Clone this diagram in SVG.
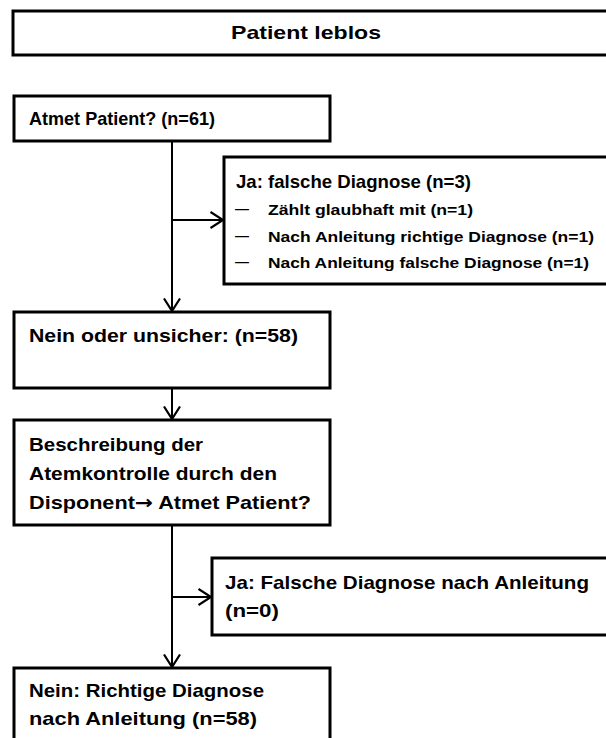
<svg xmlns="http://www.w3.org/2000/svg" width="606" height="738" viewBox="0 0 606 738">
  <style>
    .box { fill: #fff; stroke: #000; stroke-width: 3; }
    .t { font-family: "Liberation Sans", Arial, sans-serif; font-weight: bold; font-size: 19px; fill: #000; }
    .s { font-family: "Liberation Sans", Arial, sans-serif; font-weight: bold; font-size: 15.5px; fill: #000; }
    .d { font-family: "Liberation Sans", Arial, sans-serif; font-weight: normal; font-size: 16px; fill: #000; }
    .arr { font-family: "DejaVu Sans", sans-serif; font-weight: bold; }
    .line { fill: none; stroke: #000; stroke-width: 2; }
  </style>
  <defs>
    <marker id="arrow" viewBox="0 0 15 18" refX="13.5" refY="9" markerWidth="15" markerHeight="18" markerUnits="userSpaceOnUse" orient="auto">
      <polyline points="1,1 13.5,9 1,17" fill="none" stroke="#000" stroke-width="2.2"/>
    </marker>
  </defs>
  <rect width="606" height="738" fill="#fff"/>

  <g id="connectors">
    <line class="line" x1="172" y1="141" x2="172" y2="311" marker-end="url(#arrow)"/>
    <line class="line" x1="172" y1="220" x2="223" y2="220" marker-end="url(#arrow)"/>
    <line class="line" x1="172" y1="388" x2="172" y2="419" marker-end="url(#arrow)"/>
    <line class="line" x1="172" y1="525" x2="172" y2="667" marker-end="url(#arrow)"/>
    <line class="line" x1="172" y1="597" x2="211" y2="597" marker-end="url(#arrow)"/>
  </g>

  <g id="patient-leblos">
    <rect class="box" x="13" y="11" width="610" height="44"/>
    <text class="t" x="231" y="39" textLength="150" lengthAdjust="spacingAndGlyphs">Patient leblos</text>
  </g>

  <g id="atmet-patient">
    <rect class="box" x="14" y="96" width="316" height="45"/>
    <text class="t" x="29" y="125" textLength="186" lengthAdjust="spacingAndGlyphs">Atmet Patient? (n=61)</text>
  </g>

  <g id="ja-falsche-diagnose">
    <rect class="box" x="224" y="157" width="400" height="127"/>
    <text class="t" x="236" y="188" textLength="235" lengthAdjust="spacingAndGlyphs">Ja: falsche Diagnose (n=3)</text>
    <text class="d" x="235" y="214" textLength="14" lengthAdjust="spacingAndGlyphs">–</text>
    <text class="s" x="268" y="215" textLength="205" lengthAdjust="spacingAndGlyphs">Zählt glaubhaft mit (n=1)</text>
    <text class="d" x="235" y="241" textLength="14" lengthAdjust="spacingAndGlyphs">–</text>
    <text class="s" x="268" y="242" textLength="326" lengthAdjust="spacingAndGlyphs">Nach Anleitung richtige Diagnose (n=1)</text>
    <text class="d" x="235" y="267" textLength="14" lengthAdjust="spacingAndGlyphs">–</text>
    <text class="s" x="268" y="268" textLength="321" lengthAdjust="spacingAndGlyphs">Nach Anleitung falsche Diagnose (n=1)</text>
  </g>

  <g id="nein-unsicher">
    <rect class="box" x="14" y="312" width="316" height="76"/>
    <text class="t" x="29" y="342" textLength="269" lengthAdjust="spacingAndGlyphs">Nein oder unsicher: (n=58)</text>
  </g>

  <g id="beschreibung">
    <rect class="box" x="14" y="420" width="316" height="105"/>
    <text class="t" x="29" y="451" textLength="174" lengthAdjust="spacingAndGlyphs">Beschreibung der</text>
    <text class="t" x="29" y="480" textLength="248" lengthAdjust="spacingAndGlyphs">Atemkontrolle durch den</text>
    <text class="t" x="29" y="509" textLength="282" lengthAdjust="spacingAndGlyphs">Disponent<tspan class="arr">→</tspan> Atmet Patient?</text>
  </g>

  <g id="ja-falsche-nach-anleitung">
    <rect class="box" x="212" y="558" width="412" height="77"/>
    <text class="t" x="225" y="589" textLength="364" lengthAdjust="spacingAndGlyphs">Ja: Falsche Diagnose nach Anleitung</text>
    <text class="t" x="225" y="617" textLength="54" lengthAdjust="spacingAndGlyphs">(n=0)</text>
  </g>

  <g id="nein-richtige-diagnose">
    <rect class="box" x="14" y="668" width="316" height="90"/>
    <text class="t" x="29" y="697" textLength="235" lengthAdjust="spacingAndGlyphs">Nein: Richtige Diagnose</text>
    <text class="t" x="29" y="725" textLength="228" lengthAdjust="spacingAndGlyphs">nach Anleitung (n=58)</text>
  </g>
</svg>
